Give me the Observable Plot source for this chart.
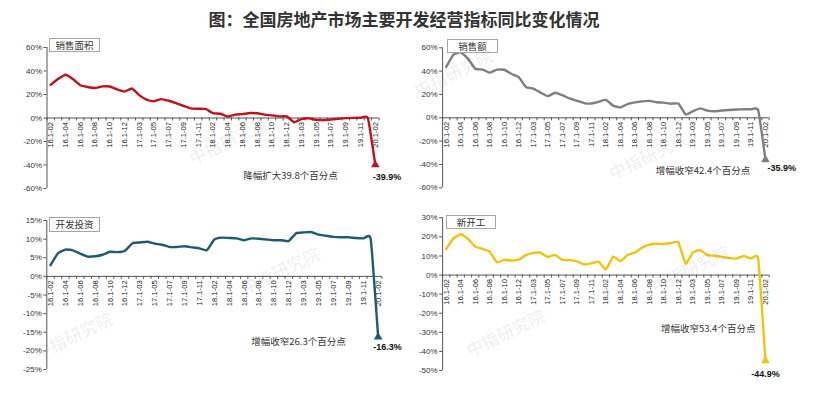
<!DOCTYPE html>
<html><head><meta charset="utf-8">
<script src="https://cdn.jsdelivr.net/npm/d3@7"></script>
<script src="https://cdn.jsdelivr.net/npm/@observablehq/plot@0.6"></script>
<style>
body{margin:0;background:#fff;width:818px;height:398px;position:relative;overflow:hidden;font-family:"Liberation Sans",Arial,sans-serif;}
#title{position:absolute;left:0;top:8px;width:808px;text-align:center;font:bold 17px "Noto Sans CJK SC";color:#333;line-height:22px;}
.panel{position:absolute;}
.tag{position:absolute;border:1px solid #a6a6a6;background:#fff;font:9.5px "Noto Sans CJK SC";color:#333;text-align:center;box-sizing:border-box;}
.wm{position:absolute;font:bold 17px "Noto Sans CJK SC";color:rgba(0,0,0,0.06);transform:translate(-50%,-50%) rotate(-26deg);white-space:nowrap;pointer-events:none;}
</style></head><body>
<div id="title">图：全国房地产市场主要开发经营指标同比变化情况</div>
<div id="root"></div>
<script>
const categories = [
  "16.1-02","16.1-03","16.1-04","16.1-05","16.1-06","16.1-07","16.1-08","16.1-09","16.1-10","16.1-11","16.1-12",
  "17.1-02","17.1-03","17.1-04","17.1-05","17.1-06","17.1-07","17.1-08","17.1-09","17.1-10","17.1-11","17.1-12",
  "18.1-02","18.1-03","18.1-04","18.1-05","18.1-06","18.1-07","18.1-08","18.1-09","18.1-10","18.1-11","18.1-12",
  "19.1-02","19.1-03","19.1-04","19.1-05","19.1-06","19.1-07","19.1-08","19.1-09","19.1-10","19.1-11","19.1-12",
  "20.1-02"
];
const salesArea = [28.2,33.1,36.8,33.2,27.9,26.4,25.5,26.9,26.8,24.3,22.5,
  25.1,19.5,15.7,14.3,16.1,14.7,12.7,10.3,8.2,7.9,7.7,
  4.1,3.6,1.3,2.9,3.3,4.2,4.0,2.9,2.2,1.4,1.3,
  -3.6,-0.9,-0.3,-1.6,-1.8,-1.3,-0.6,-0.1,0.1,0.2,-0.1,
  -39.9];
const salesAmount = [43.6,54.1,56.2,50.7,42.1,41.3,38.7,41.3,41.2,37.5,34.8,
  26.3,25.1,21.6,18.6,21.5,19.4,16.6,14.6,12.6,12.2,13.7,
  15.3,10.4,8.9,11.8,13.2,14.1,14.5,13.3,13.0,12.1,12.2,
  2.8,5.6,8.1,6.1,5.6,6.2,6.7,7.1,7.3,7.3,6.5,
  -35.9];
const investment = [3.0,6.2,7.2,7.0,6.1,5.3,5.4,5.8,6.6,6.5,6.9,
  8.9,9.1,9.3,8.8,8.5,7.9,7.9,8.1,7.8,7.5,7.0,
  9.9,10.4,10.3,10.2,9.7,10.2,10.1,9.9,9.7,9.7,9.5,
  11.6,11.8,11.9,11.2,10.9,10.6,10.5,10.5,10.3,10.2,10.0,
  -16.3];
const newStarts = [13.7,19.2,21.4,18.9,14.9,13.7,12.2,6.7,8.0,7.6,8.1,
  10.4,11.6,11.7,9.5,10.6,7.9,7.8,7.2,5.6,6.1,7.0,
  2.9,9.7,7.3,10.5,11.8,14.4,15.9,16.4,16.3,16.8,17.2,
  6.0,11.9,13.1,10.5,10.1,9.5,8.9,8.6,10.0,8.6,8.5,
  -44.9];
const panelNames = ["销售面积","销售额","开发投资","新开工"];
const notes = ["降幅扩大39.8个百分点","增幅收窄42.4个百分点","增幅收窄26.3个百分点","增幅收窄53.4个百分点"];
const yTicksA = [-60,-40,-20,0,20,40,60];
const yTicksB = [-60,-40,-20,0,20,40,60];
const yTicksC = [-25,-20,-15,-10,-5,0,5,10,15];
const yTicksD = [-50,-40,-30,-20,-10,0,10,20,30];

const panels = [
  {values: salesArea, name: panelNames[0], note: notes[0], ticks: yTicksA, color: "#c0121b",
   left: 0, top: 30, width: 409, height: 170, mt: 17, mb: 12, ml: 46.5, mr: 30.5,
   noteAt: [32.5, -48.9], edx: -2.5, edy: 12, eanchor: "start",
   tag: {left: 49, top: 38, w: 51, h: 14}},
  {values: salesAmount, name: panelNames[1], note: notes[1], ticks: yTicksB, color: "#7f7f7f",
   left: 409, top: 30, width: 409, height: 170, mt: 17.3, mb: 12.7, ml: 33.1, mr: 49.4,
   noteAt: [35.4, -45.8], edx: 2, edy: 8, eanchor: "start",
   tag: {left: 447, top: 39, w: 51, h: 14}},
  {values: investment, name: panelNames[2], note: notes[2], ticks: yTicksC, color: "#1d5b70",
   left: 0, top: 200, width: 409, height: 198, mt: 20, mb: 29, ml: 46.3, mr: 27.6,
   noteAt: [33.3, -17.7], edx: -5, edy: 10, eanchor: "start",
   tag: {left: 49, top: 217, w: 51, h: 15}},
  {values: newStarts, name: panelNames[3], note: notes[3], ticks: yTicksD, color: "#f4c20d",
   left: 409, top: 200, width: 409, height: 198, mt: 17.3, mb: 28, ml: 33.1, mr: 49.4,
   noteAt: [36.1, -28.1], edx: 0, edy: 13.5, eanchor: "middle",
   tag: {left: 446, top: 215, w: 50, h: 14}}
];

const root = document.getElementById("root");
const axisColor = "#555";

for (const p of panels) {
  const data = p.values.map((v, i) => ({i, v}));
  const last = data[data.length - 1];
  const n = categories.length;
  const idx = d3.range(n);
  const labelIdx = idx.filter(i => i % 2 === 0);
  const bounds = d3.range(n + 1).map(k => k - 0.5);
  const chart = Plot.plot({
    width: p.width, height: p.height,
    marginTop: p.mt, marginBottom: p.mb, marginLeft: p.ml, marginRight: p.mr,
    style: {fontFamily: "'Liberation Sans', Arial, sans-serif", color: "#333", background: "transparent", overflow: "visible"},
    x: {type: "linear", domain: [-0.5, n - 0.5], axis: null},
    y: {domain: [p.ticks[0], p.ticks[p.ticks.length - 1]], axis: null},
    marks: [
      Plot.ruleX([-0.5], {stroke: axisColor, strokeWidth: 1}),
      Plot.axisY(p.ticks, {tickSize: 3, tickPadding: 2, fontSize: 8, tickFormat: d => d + "%", stroke: axisColor, fill: "#333", label: null}),
      Plot.ruleY([0], {stroke: axisColor, strokeWidth: 1}),
      Plot.ruleX(bounds, {x: d => d, y1: 0, y2: 0, insetBottom: -3, stroke: axisColor}),
      Plot.text(labelIdx, {x: d => d, y: 0, text: i => categories[i], rotate: -90, textAnchor: "end", dy: 4, fontSize: 7.6, fill: "#222"}),
      Plot.lineY(data, {x: "i", y: "v", stroke: p.color, strokeWidth: 2.4, curve: "cardinal", tension: 0.6}),
      Plot.dot([last], {x: "i", y: "v", symbol: "triangle", fill: p.color, r: 3.2}),
      Plot.text([last], {x: "i", y: "v", text: d => d.v.toFixed(1) + "%", fontWeight: "bold", fontSize: 9, dx: p.edx, dy: p.edy, textAnchor: p.eanchor, fill: "#111"}),
      Plot.text([p.note], {x: () => p.noteAt[0], y: () => p.noteAt[1], text: d => d, fontSize: 9.5, fontFamily: "'Noto Sans CJK SC'", fill: "#333"})
    ]
  });
  const wrap = document.createElement("div");
  wrap.className = "panel";
  wrap.style.left = p.left + "px";
  wrap.style.top = p.top + "px";
  wrap.appendChild(chart);
  root.appendChild(wrap);
  const tag = document.createElement("div");
  tag.className = "tag";
  tag.style.left = p.tag.left + "px";
  tag.style.top = p.tag.top + "px";
  tag.style.width = p.tag.w + "px";
  tag.style.height = p.tag.h + "px";
  tag.style.lineHeight = (p.tag.h - 2) + "px";
  tag.textContent = p.name;
  root.appendChild(tag);
}

const watermark = "中指研究院";
const wmSpots = [[228,140],[453,72],[648,155],[280,270],[73,335],[690,268],[505,332]];
for (const [cx, cy] of wmSpots) {
  const s = document.createElement("span");
  s.className = "wm";
  s.style.left = cx + "px";
  s.style.top = cy + "px";
  s.textContent = watermark;
  document.body.appendChild(s);
}
</script>
</body></html>
